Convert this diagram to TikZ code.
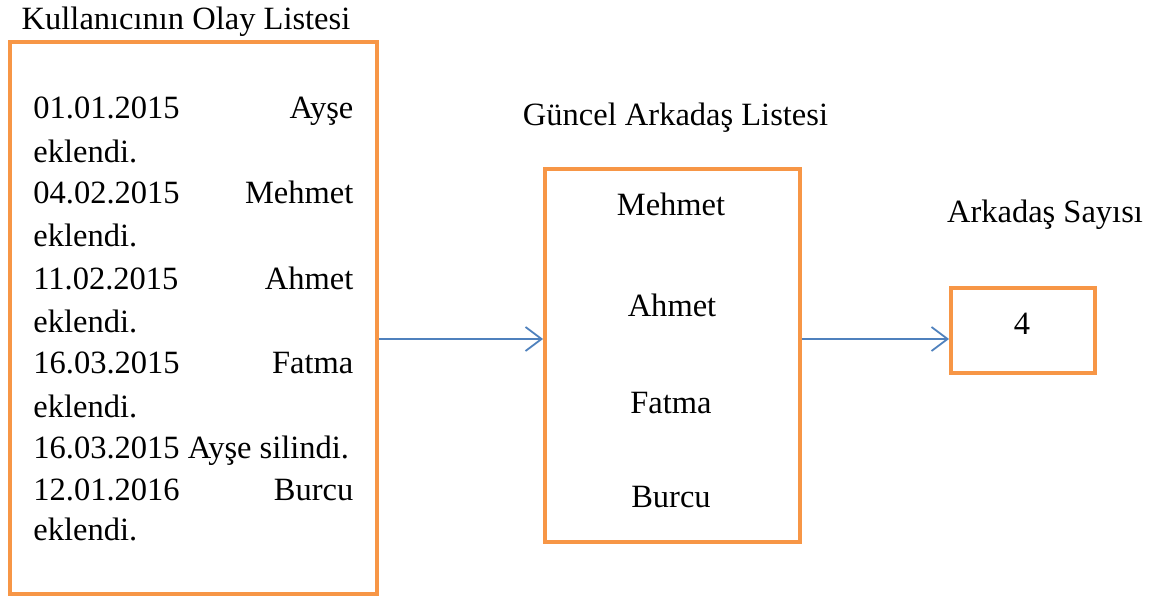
\documentclass[tikz,border=0pt]{standalone}
\usepackage{fontspec}
\setmainfont{Liberation Serif}
\usetikzlibrary{arrows.meta}
\definecolor{boxorange}{HTML}{F79646}
\definecolor{linkblue}{HTML}{4F81BD}
\begin{document}
\begin{tikzpicture}[x=0.5pt,y=-0.5pt,
  frame/.style={draw=boxorange,line width=2pt,inner sep=0pt},
  lbl/.style={inner sep=0pt,anchor=base,font=\fontsize{16.25pt}{21pt}\selectfont},
  evplain/.style={lbl,anchor=base west},
  evline/.style={evplain,text width=160pt,align=left},
  link/.style={draw=linkblue,line width=0.9pt,-{Straight Barb[length=8pt,width=12pt]}}]
\useasboundingbox (0,0) rectangle (1160,598);

% boxes
\node[frame,minimum width=183.5pt,minimum height=276pt] (events) at (193.5,318) {};
\node[frame,minimum width=127.5pt,minimum height=186.5pt] (friends) at (672.5,355.5) {};
\node[frame,minimum width=72pt,minimum height=42.5pt] (count) at (1023,330.5) {};

% titles
\node[lbl] (t1) at (186,30) {Kullanıcının Olay Listesi};
\node[lbl] (t2) at (675.5,126) {Güncel Arkadaş Listesi};
\node[lbl] (t3) at (1045,223) {Arkadaş Sayısı};

% event log
\node[evline] (e1) at (33,119) {01.01.2015\hfill Ayşe};
\node[evplain] (e2) at (33,163) {eklendi.};
\node[evline] (e3) at (33,204) {04.02.2015\hfill Mehmet};
\node[evplain] (e4) at (33,247) {eklendi.};
\node[evline] (e5) at (33,290) {11.02.2015\hfill Ahmet};
\node[evplain] (e6) at (33,332) {eklendi.};
\node[evline] (e7) at (33,373) {16.03.2015\hfill Fatma};
\node[evplain] (e8) at (33,417) {eklendi.};
\node[evplain] (e9) at (33,458) {16.03.2015 Ayşe silindi.};
\node[evline] (e10) at (33,500) {12.01.2016\hfill Burcu};
\node[evplain] (e11) at (33,540) {eklendi.};

% current friends
\node[lbl] (f1) at (671,216) {Mehmet};
\node[lbl] (f2) at (672,316) {Ahmet};
\node[lbl] (f3) at (671,413) {Fatma};
\node[lbl] (f4) at (671,507) {Burcu};

% friend count
\node[lbl] (n) at (1022,335) {4};

% connectors
\coordinate (lvl) at (0,339);
\draw[link] (events.east |- lvl) -- (friends.west |- lvl);
\draw[link] (friends.east |- lvl) -- (count.west |- lvl);
\end{tikzpicture}
\end{document}
